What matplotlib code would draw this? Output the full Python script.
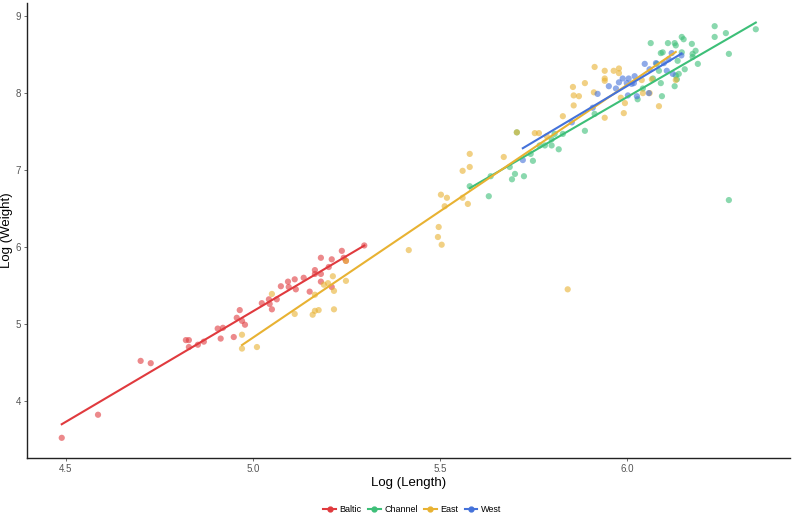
import numpy as np
import matplotlib.pyplot as plt

plt.rcParams['font.family'] = ['Liberation Sans', 'DejaVu Sans']

# log length / log weight per region
baltic_x = [4.489, 4.586, 4.700, 4.727, 4.821, 4.829, 4.829, 4.853, 4.869, 4.906,
            4.914, 4.920, 4.949, 4.957, 4.965, 4.971, 4.979, 5.024, 5.043, 5.045,
            5.051, 5.064, 5.075, 5.094, 5.096, 5.112, 5.115, 5.136, 5.152, 5.166,
            5.166, 5.182, 5.182, 5.182, 5.203, 5.211, 5.211, 5.238, 5.243, 5.249,
            5.298]
baltic_y = [3.52, 3.82, 4.52, 4.49, 4.79, 4.79, 4.70, 4.73, 4.77, 4.94,
            4.81, 4.95, 4.83, 5.08, 5.18, 5.04, 4.99, 5.27, 5.32, 5.26,
            5.19, 5.32, 5.49, 5.55, 5.48, 5.58, 5.45, 5.60, 5.42, 5.70,
            5.65, 5.86, 5.65, 5.55, 5.74, 5.84, 5.48, 5.95, 5.86, 5.82,
            6.02]

channel_x = [5.580, 5.631, 5.636, 5.687, 5.693, 5.701, 5.725, 5.706, 5.743, 5.749,
             5.767, 5.781, 5.799, 5.799, 5.818, 5.807, 5.829, 5.888, 5.914, 6.029,
             6.094, 6.091, 6.064, 6.091, 6.096, 6.110, 6.128, 6.131, 6.147, 6.152,
             6.174, 6.147, 6.136, 6.176, 6.184, 6.176, 6.155, 6.190, 6.139, 6.134,
             6.128, 6.131, 6.080, 6.086, 6.235, 6.235, 6.265, 6.273, 6.345, 6.273,
             6.070, 6.043]
channel_y = [6.79, 6.66, 6.92, 7.04, 6.88, 6.95, 6.92, 7.49, 7.21, 7.12,
             7.32, 7.32, 7.32, 7.40, 7.27, 7.47, 7.47, 7.51, 7.73, 7.92,
             7.96, 8.13, 8.65, 8.52, 8.53, 8.65, 8.65, 8.62, 8.73, 8.70,
             8.64, 8.53, 8.42, 8.51, 8.55, 8.47, 8.31, 8.38, 8.25, 8.18,
             8.09, 8.23, 8.38, 8.29, 8.87, 8.73, 8.78, 8.51, 8.83, 6.61,
             8.19, 8.06]

east_x = [4.971, 4.971, 5.011, 5.051, 5.112, 5.160, 5.166, 5.176, 5.166, 5.190,
          5.201, 5.214, 5.217, 5.217, 5.249, 5.249, 5.417, 5.495, 5.497, 5.505,
          5.503, 5.519, 5.513, 5.561, 5.575, 5.561, 5.580, 5.580, 5.671, 5.754,
          5.765, 5.786, 5.842, 5.706, 5.829, 5.856, 5.858, 5.872, 5.858, 5.888,
          5.914, 5.912, 5.941, 5.941, 5.941, 5.941, 5.965, 5.979, 5.979, 5.984,
          5.995, 5.992, 6.040, 6.043, 6.061, 6.067, 6.086, 6.131]
east_y = [4.68, 4.86, 4.70, 5.39, 5.13, 5.12, 5.17, 5.18, 5.38, 5.51,
          5.53, 5.62, 5.43, 5.19, 5.82, 5.56, 5.96, 6.13, 6.26, 6.03,
          6.68, 6.64, 6.53, 6.64, 6.56, 6.99, 7.04, 7.21, 7.17, 7.48,
          7.48, 7.44, 5.45, 7.49, 7.70, 8.08, 7.97, 7.96, 7.84, 8.13,
          8.34, 8.01, 8.29, 8.19, 8.16, 7.68, 8.29, 8.32, 8.26, 7.94,
          7.87, 7.74, 8.17, 8.00, 8.00, 8.18, 7.83, 8.17]

west_x = [5.722, 5.853, 5.909, 5.922, 5.952, 5.971, 5.979, 5.989, 6.005, 6.000,
          6.013, 6.019, 6.003, 6.027, 6.021, 6.048, 6.059, 6.061, 6.078, 6.099,
          6.112, 6.107, 6.120, 6.146, 6.123]
west_y = [7.13, 7.62, 7.81, 7.99, 8.09, 8.06, 8.14, 8.19, 8.19, 8.13,
          8.12, 8.13, 7.97, 7.96, 8.22, 8.38, 8.00, 8.31, 8.39, 8.39,
          8.44, 8.29, 8.52, 8.49, 8.25]

groups = ['Baltic', 'Channel', 'East', 'West']
colors = ['#E03A3E', '#3DBF78', '#E8B232', '#4472DA']
xs = [baltic_x, channel_x, east_x, west_x]
ys = [baltic_y, channel_y, east_y, west_y]

fig, ax = plt.subplots(figsize=(7.93, 5.15), dpi=100)
fig.subplots_adjust(left=0.034, right=0.996, bottom=0.111, top=0.994)

handles = []
for name, c, x, y in zip(groups, colors, xs, ys):
    x = np.array(x)
    y = np.array(y)
    ax.scatter(x, y, s=20, color=c, alpha=0.6, edgecolors='none', zorder=2)
    # linear fit over the group's range
    k, b = np.polyfit(x, y, 1)
    xx = np.array([x.min(), x.max()])
    ax.plot(xx, k * xx + b, color=c, lw=1.5, zorder=3)
    h, = ax.plot([], [], color=c, lw=1.5, marker='o', markersize=3.5, label=name)
    handles.append(h)

ax.set_xlim(4.396, 6.436)
ax.set_ylim(3.26, 9.17)
ax.set_xticks([4.5, 5.0, 5.5, 6.0])
ax.set_xticklabels(['4.5', '5.0', '5.5', '6.0'])
ax.set_yticks([4, 5, 6, 7, 8, 9])
ax.tick_params(colors='#555555', labelsize=7, length=2.5, width=0.6, pad=2)
for s in ['top', 'right']:
    ax.spines[s].set_visible(False)
for s in ['left', 'bottom']:
    ax.spines[s].set_color('#222222')
    ax.spines[s].set_linewidth(1.0)

ax.set_xlabel('Log (Length)', fontsize=9.5, va='center')
ax.set_ylabel('Log (Weight)', fontsize=9.5, va='center')
ax.xaxis.set_label_coords(0.5, -0.055)
ax.yaxis.set_label_coords(-0.026, 0.5)

fig.legend(handles=handles, loc='center', ncol=4, frameon=False,
           fontsize=6.5, bbox_to_anchor=(0.52, 0.01), handlelength=1.4,
           columnspacing=0.7, handletextpad=0.4)

plt.savefig('out.png', dpi=100)
